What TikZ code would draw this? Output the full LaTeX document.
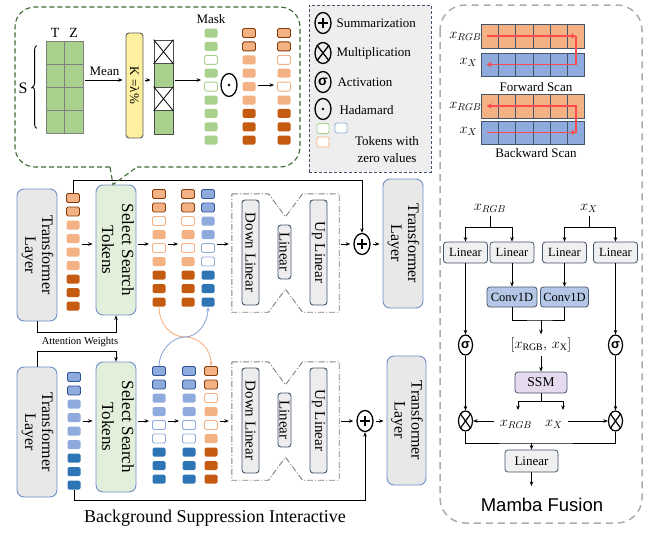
\documentclass[tikz,border=0pt]{standalone}
\usepackage{fontspec}
\setmainfont{Liberation Serif}
\setsansfont{Liberation Sans}
\usepackage{graphicx}
\usepackage{tikz}
\usetikzlibrary{
  arrows.meta,
  positioning,
  shapes.geometric,
  calc,
  decorations.pathreplacing,
}

\definecolor{orL}{HTML}{F4B183}
\definecolor{orD}{HTML}{C55A11}
\definecolor{orE}{HTML}{843C0C}
\definecolor{blL}{HTML}{8FAADC}
\definecolor{blD}{HTML}{2E75B6}
\definecolor{blE}{HTML}{2F5597}
\definecolor{grL}{HTML}{A9D18E}
\definecolor{grBox}{HTML}{E2EFDA}
\definecolor{slate}{HTML}{44546A}
\definecolor{layerbd}{HTML}{6F8FC7}
\definecolor{callgr}{HTML}{3E6B34}
\definecolor{scanred}{HTML}{FF4B4B}
\definecolor{convbl}{HTML}{B4C7E7}
\definecolor{ssmpu}{HTML}{E6DAEE}
\definecolor{kyel}{HTML}{FFF0A0}

\newcommand{\fs}[2]{\fontsize{#1}{#2}\selectfont}
\newcommand{\vlab}[1]{\rotatebox{-90}{\begin{tabular}{@{}c@{}}#1\end{tabular}}}

\begin{document}
\begin{tikzpicture}[
  x=1pt, y=-1pt,
  >={Stealth[length=4.5pt,width=3.6pt]},
  tok/.style={minimum width=13pt, minimum height=9pt, inner sep=0pt,
    rounded corners=1.5pt, line width=0.9pt},
  oB/.style={tok, fill=orL, draw=orE},
  oL/.style={tok, fill=orL},
  oZ/.style={tok, fill=white, draw=orL},
  oD/.style={tok, fill=orD},
  bB/.style={tok, fill=blL, draw=blE},
  bL/.style={tok, fill=blL},
  bZ/.style={tok, fill=white, draw=blL},
  bD/.style={tok, fill=blD},
  gF/.style={tok, fill=grL},
  gZ/.style={tok, fill=white, draw=grL},
  tfbox/.style={draw=layerbd, line width=0.9pt, rounded corners=7pt,
    fill=gray!18, inner sep=0pt, font=\fs{16}{17}},
  selbox/.style={tfbox, fill=grBox, font=\fs{17}{20}},
  lin/.style={draw=slate, line width=0.9pt, rounded corners=3pt,
    fill=gray!14, inner sep=0pt, font=\fs{15}{15}},
  mblk/.style={draw=slate, line width=0.8pt, rounded corners=3pt,
    fill=gray!12, inner sep=0pt, minimum height=21pt, font=\fs{12.5}{12.5}},
  op/.style={ellipse, draw, line width=1.3pt, minimum width=16pt,
    minimum height=21pt, inner sep=0pt},
  flow/.style={->, line width=0.9pt, shorten <=2pt, shorten >=3pt},
  wire/.style={line width=0.9pt},
  adbox/.style={draw=gray, line width=0.9pt,
    dash pattern=on 6pt off 2pt on 1pt off 2pt},
  scan/.style={draw=scanred, line width=1.8pt, -{Stealth[length=5pt,width=5.5pt]}},
  cell/.style={draw=slate, line width=0.8pt, minimum width=17.3pt,
    inner sep=0pt},
  note/.style={font=\fs{13}{13}},
  mlab/.style={font=\fs{14}{14}},
]
\useasboundingbox (0,0) rectangle (649,536);

% ── Top row: adapter path ───────────────────────────────────────────
\node[tfbox, minimum width=40pt, minimum height=132pt] (tlA) at (37,255)
  {\vlab{Transformer\\Layer}};
\foreach \s [count=\i] in {oB,oB,oL,oL,oL,oL,oD,oD,oD}
  \node[\s] (a1-\i) at (73,{198+13.5*(\i-1)}) {};
\node[selbox, minimum width=40pt, minimum height=130pt] (sstA) at (116,250)
  {\vlab{Select Search\\Tokens}};
\foreach \s [count=\i] in {oB,oB,oZ,oL,oZ,oL,oD,oD,oD} {
  \node[\s] (a2-\i) at (159,{194+13.5*(\i-1)}) {};
  \node[\s] (a3-\i) at (188,{194+13.5*(\i-1)}) {};
}
\foreach \s [count=\i] in {bB,bB,bL,bL,bZ,bZ,bD,bD,bD}
  \node[\s] (a4-\i) at (208,{194+13.5*(\i-1)}) {};

\node[minimum width=107pt, minimum height=118pt, inner sep=0pt] (adA) at (285.5,253) {};
\node[lin, minimum width=17pt, minimum height=105pt] (dlA) at (250.5,252.5)
  {\rotatebox{-90}{Down Linear}};
\node[lin, minimum width=13pt, minimum height=54pt] (liA) at (284.5,252)
  {\rotatebox{-90}{Linear}};
\node[lin, minimum width=17pt, minimum height=105pt] (ulA) at (318.5,252.5)
  {\rotatebox{-90}{Up Linear}};

\node[op] (plusA) at (362,244) {};
\node[tfbox, minimum width=40pt, minimum height=129pt] (tlA2) at (403,243.5)
  {\vlab{Transformer\\Layer}};

% ── Bottom row: adapter path ────────────────────────────────────────
\node[tfbox, minimum width=40pt, minimum height=130pt] (tlB) at (37,432)
  {\vlab{Transformer\\Layer}};
\foreach \s [count=\i] in {bB,bB,bL,bL,bL,bL,bD,bD,bD}
  \node[\s] (b1-\i) at (74,{377+13.5*(\i-1)}) {};
\node[selbox, minimum width=40pt, minimum height=130pt] (sstB) at (116,427)
  {\vlab{Select Search\\Tokens}};
\foreach \s [count=\i] in {bB,bB,bL,bL,bZ,bZ,bD,bD,bD} {
  \node[\s] (b2-\i) at (159,{371+13.5*(\i-1)}) {};
  \node[\s] (b3-\i) at (189,{371+13.5*(\i-1)}) {};
}
\foreach \s [count=\i] in {oB,oB,oZ,oL,oZ,oL,oD,oD,oD}
  \node[\s] (b4-\i) at (211,{371+13.5*(\i-1)}) {};

\node[minimum width=107pt, minimum height=118pt, inner sep=0pt] (adB) at (285.5,421) {};
\node[lin, minimum width=17pt, minimum height=105pt] (dlB) at (250.5,420.5)
  {\rotatebox{-90}{Down Linear}};
\node[lin, minimum width=13pt, minimum height=54pt] (liB) at (284.5,420)
  {\rotatebox{-90}{Linear}};
\node[lin, minimum width=17pt, minimum height=105pt] (ulB) at (318.5,420.5)
  {\rotatebox{-90}{Up Linear}};

\node[op] (plusB) at (365,421) {};
\node[tfbox, minimum width=39pt, minimum height=129pt] (tlB2) at (406.5,420.5)
  {\vlab{Transformer\\Layer}};

\foreach \n in {adA,adB}
  \draw[adbox] (\n.north west) -- ([xshift=-17pt]\n.north) -- ([yshift=-23pt]\n.north)
    -- ([xshift=17pt]\n.north) -- (\n.north east) -- (\n.south east)
    -- ([xshift=17pt]\n.south) -- ([yshift=23pt]\n.south)
    -- ([xshift=-17pt]\n.south) -- (\n.south west) -- cycle;

% ── Connections: main rows ──────────────────────────────────────────
\coordinate (rowA) at (0,244);
\coordinate (rowB) at (0,421);
\draw[flow] (a1-4.east |- rowA) -- (sstA.west |- rowA);
\draw[flow] (sstA.east |- rowA) -- (a2-4.west |- rowA);
\draw[flow] (a2-4.east |- rowA) -- (a3-4.west |- rowA);
\draw[flow] (a4-4.east |- rowA) -- (adA.west |- rowA);
\draw[flow] (adA.east |- rowA) -- (plusA.west);
\draw[flow] (plusA.east) -- (tlA2.west |- plusA);

\draw[flow] (b1-4.east |- rowB) -- (sstB.west |- rowB);
\draw[flow] (sstB.east |- rowB) -- (b2-4.west |- rowB);
\draw[flow] (b2-4.east |- rowB) -- (b3-4.west |- rowB);
\draw[flow] (b4-4.east |- rowB) -- (adB.west |- rowB);
\draw[flow] (adB.east |- rowB) -- (plusB.west);
\draw[flow] (plusB.east) -- (tlB2.west |- plusB);

\coordinate (skipA) at (73,180);
\draw[->, wire] (a1-1.north) -- (skipA) -| (plusA.north);
\coordinate (skipB) at (74,500);
\draw[->, wire] (b1-9.south) -- (skipB) -| (plusB.south);

\coordinate (attA) at (116,332);
\draw[->, wire] (tlA.south) |- (attA) -- (sstA.south);
\coordinate (attB) at (116,351);
\draw[->, wire] (tlB.north) |- (attB) -- (sstB.north);
\node[font=\fs{10.5}{10.5}] (attlbl) at (80,342) {Attention Weights};

% token swap between the two rows
\coordinate (xcross) at (185,337);
\draw[->, orL, line width=0.9pt] (a2-9.south) .. controls (159,324) and (171,337) .. (xcross)
  .. controls (199,337) and (211,349) .. (b4-1.north);
\draw[->, blL, line width=0.9pt] (b2-1.north) .. controls (159,351) and (172,337) .. (xcross)
  .. controls (198,337) and (208,322) .. (a4-9.south);

\node[font=\fs{18}{18}] (title) at (215,518) {Background Suppression Interactive};

% ── Zoom-in of token selection ──────────────────────────────────────
\draw[callgr, line width=1.1pt, dash pattern=on 5pt off 3pt, rounded corners=20pt]
  (110,167) -- (15,167) -- (15,7) -- (300,7) -- (300,167) -- (137,167);
\draw[callgr, line width=1.1pt, dash pattern=on 5pt off 3pt]
  (110,167) -- ([xshift=-3pt]sstA.north) -- (137,167);

\foreach \r in {1,...,4}
  \foreach \c in {1,2}
    \node[draw=gray, fill=grL, line width=0.8pt, minimum width=18.5pt,
          minimum height=23pt, inner sep=0pt]
      (g-\r-\c) at ({46+18.5*(\c-0.5)},{41+23*(\r-0.5)}) {};
\node[font=\fs{14}{14}, above=0pt of g-1-1] (lblT) {T};
\node[font=\fs{14}{14}, above=0pt of g-1-2] (lblZ) {Z};
\node[font=\fs{16}{16}] (lblS) at (23,88) {S};
\draw[decorate, decoration={brace, amplitude=4pt}, line width=0.9pt]
  ([xshift=-9pt,yshift=5pt]g-4-1.south west) -- ([xshift=-9pt,yshift=-5pt]g-1-1.north west);
\coordinate (brtip) at (33,87.5);
\draw[wire] (lblS.east) -- (brtip);

\node[draw=gray!70!black, fill=kyel, rounded corners=3pt, line width=0.9pt,
      minimum width=17pt, minimum height=105pt, inner sep=0pt] (kbox) at (134.5,85.5)
  {\rotatebox{-90}{\fs{13}{13}K =λ\%}};
\foreach \f [count=\i] in {white,grL,white,grL}
  \node[draw=gray!60!black, fill=\f, line width=0.8pt, minimum width=19pt,
        minimum height=23.5pt, inner sep=0pt] (sel-\i) at (163.5,{40+23.5*(\i-0.5)}) {};
\foreach \i in {1,3}
  \draw[line width=0.8pt] (sel-\i.north west) -- (sel-\i.south east)
    (sel-\i.north east) -- (sel-\i.south west);

\foreach \s [count=\i] in {gF,gF,gZ,gF,gZ,gF,gF,gF,gF}
  \node[\s] (m-\i) at (211,{33+13.4*(\i-1)}) {};
\node[note, above=1pt of m-1] (lblmask) {Mask};
\node[op, minimum height=23pt] (had) at (229,85) {};
\fill (had.center) circle (1.4pt);
\foreach \s [count=\i] in {oB,oB,oL,oL,oL,oL,oD,oD,oD}
  \node[\s] (w-\i) at (249,{33+13.4*(\i-1)}) {};
\foreach \s [count=\i] in {oB,oB,oZ,oL,oZ,oL,oD,oD,oD}
  \node[\s] (r-\i) at (284,{33+13.4*(\i-1)}) {};

\coordinate (rowT) at (0,80);
\draw[flow] (g-2-2.east |- rowT) -- (kbox.west |- rowT)
  node[midway, above=1pt, note] {Mean};
\draw[flow] (kbox.east |- rowT) -- (sel-2.west |- rowT);
\draw[flow] (sel-2.east |- rowT) -- (m-4.west |- rowT);
\draw[flow] (w-5.east |- had) -- (r-5.west |- had);

% ── Legend ──────────────────────────────────────────────────────────
\node[draw=slate, fill=gray!13, line width=0.9pt, dash pattern=on 3pt off 2pt,
      minimum width=122pt, minimum height=167pt, inner sep=0pt] (legend) at (370,88.5) {};
\node[op] (lg-sum) at (323,23) {};
\node[note, anchor=west] (lg-sum-t) at (333,23) {Summarization};
\node[op] (lg-mul) at (323,53) {};
\draw[line width=1.3pt] (lg-mul.north east) -- (lg-mul.south west)
  (lg-mul.north west) -- (lg-mul.south east);
\node[note, anchor=west] (lg-mul-t) at (333,53) {Multiplication};
\node[op] (lg-act) at (323,82) {\fs{14}{14}\sffamily\bfseries σ};
\node[note, anchor=west] (lg-act-t) at (334,82) {Activation};
\node[op] (lg-had) at (323,109) {};
\fill (lg-had.center) circle (1.4pt);
\node[note, anchor=west] (lg-had-t) at (336,110) {Hadamard};
\node[gZ, minimum width=12pt, minimum height=10pt] (lg-g) at (323,128.5) {};
\node[bZ, minimum width=12pt, minimum height=10pt] (lg-b) at (341,128) {};
\node[oZ, minimum width=12pt, minimum height=10pt] (lg-o) at (323,142) {};
\node[align=center, font=\fs{13}{17}] (lg-tok-t) at (387,150) {Tokens with\\zero values};

% bold plus signs inside the summation circles
\foreach \n in {plusA,plusB,lg-sum}
  \draw[line width=2pt] ([yshift=-5pt]\n.center) -- ([yshift=5pt]\n.center)
    ([xshift=-5pt]\n.center) -- ([xshift=5pt]\n.center);

% ── Mamba Fusion ────────────────────────────────────────────────────
\draw[gray!65, line width=1.5pt, dash pattern=on 7pt off 5pt, rounded corners=25pt]
  (440,5) rectangle (642,523);

\foreach \i in {1,...,6} {
  \node[cell, fill=orL, minimum height=24pt] (fo-\i) at ({481+17.3*(\i-0.5)},36) {};
  \node[cell, fill=blL, minimum height=23pt] (fb-\i) at ({481+17.3*(\i-0.5)},64.5) {};
  \node[cell, fill=orL, minimum height=24pt] (ko-\i) at ({481+17.3*(\i-0.5)},106) {};
  \node[cell, fill=blL, minimum height=23pt] (kb-\i) at ({481+17.3*(\i-0.5)},132.5) {};
}
\node[mlab] (sfo) at (465.5,36) {$x_{RGB}$};
\node[mlab] (sfb) at (468.5,62) {$x_{X}$};
\node[mlab] (sko) at (465.5,106) {$x_{RGB}$};
\node[mlab] (skb) at (468.5,131) {$x_{X}$};
\node[note] (fwd) at (536,87) {Forward Scan};
\node[note] (bwd) at (536,153) {Backward Scan};
\draw[scan] ([xshift=-3pt]fo-1.center) -- (fo-6.center);
\draw[scan] (fo-6.center) -- (fb-6.center) -- ([xshift=-3pt]fb-1.center);
\draw[scan] ([xshift=-3pt]kb-1.center) -- (kb-6.center);
\draw[scan] (kb-6.center) -- (ko-6.center) -- ([xshift=-3pt]ko-1.center);

\node[mlab] (xr) at (490,208) {$x_{RGB}$};
\node[mlab] (xx) at (589,208) {$x_{X}$};
\node[mblk, minimum width=44pt] (lin1) at (465.5,252.5) {Linear};
\node[mblk, minimum width=44pt] (lin2) at (512,252.5) {Linear};
\node[mblk, minimum width=44pt] (lin3) at (564.5,252.5) {Linear};
\node[mblk, minimum width=44pt] (lin4) at (615.5,252.5) {Linear};
\node[mblk, fill=convbl, minimum width=50pt, minimum height=20pt] (conv1) at (512,297) {Conv1D};
\node[mblk, fill=convbl, minimum width=48pt, minimum height=20pt] (conv2) at (564.5,297) {Conv1D};
\node[mlab] (cat) at (541,345) {$[x_{\mathrm{RGB}},\,x_{\mathrm{X}}]$};
\node[op, line width=1.2pt, minimum width=14pt, minimum height=20pt] (sig1) at (465.5,345)
  {\fs{13}{13}\sffamily\bfseries σ};
\node[op, line width=1.2pt, minimum width=14pt, minimum height=20pt] (sig2) at (615.5,345)
  {\fs{13}{13}\sffamily\bfseries σ};
\node[mblk, fill=ssmpu, minimum width=52pt, font=\fs{13.5}{13.5}] (ssm) at (541,382.5) {SSM};
\node[op, line width=1.2pt, minimum width=14pt, minimum height=20pt] (mul1) at (465.5,421) {};
\node[op, line width=1.2pt, minimum width=14pt, minimum height=20pt] (mul2) at (615.5,421) {};
\foreach \n in {mul1,mul2}
  \draw[line width=1.2pt] (\n.north east) -- (\n.south west) (\n.north west) -- (\n.south east);
\node[mlab] (xr2) at (516,424) {$x_{RGB}$};
\node[mlab] (xx2) at (554,424) {$x_{X}$};
\node[mblk, minimum width=53pt, minimum height=22pt, font=\fs{13}{13}] (linout) at (531.5,461) {Linear};
\node[font=\sffamily\fs{18.5}{18.5}] (mtitle) at (542,505) {Mamba Fusion};

\draw[->, wire] (xr.south) |- ([yshift=14pt]lin1.north) -- (lin1.north);
\draw[->, wire] (xr.south) |- ([yshift=14pt]lin2.north) -- (lin2.north);
\draw[->, wire] (xx.south) |- ([yshift=14pt]lin3.north) -- (lin3.north);
\draw[->, wire] (xx.south) |- ([yshift=14pt]lin4.north) -- (lin4.north);
\draw[->, wire] (lin2) -- (conv1);
\draw[->, wire] (lin3) -- (conv2);
\coordinate (catin) at (541,320);
\draw[wire] (conv1.south) |- (catin) -| (conv2.south);
\draw[->, wire] (catin) -- (cat);
\draw[->, wire] (cat) -- (ssm);
\coordinate (ssmfork) at (541,401);
\coordinate (toxr) at (518,410);
\coordinate (toxx) at (563,410);
\draw[wire] (ssm.south) -- (ssmfork);
\draw[->, wire] (ssmfork) -| (toxr);
\draw[->, wire] (ssmfork) -| (toxx);
\draw[->, wire] (lin1) -- (sig1);
\draw[->, wire] (sig1) -- (mul1);
\draw[->, wire] (lin4) -- (sig2);
\draw[->, wire] (sig2) -- (mul2);
\draw[->, wire, shorten <=2pt] (xr2.west |- mul1) -- (mul1.east);
\draw[->, wire, shorten <=2pt] (xx2.east |- mul2) -- (mul2.west);
\coordinate (mulj) at (531.5,443);
\draw[wire] (mul1.south) |- (mulj) -| (mul2.south);
\draw[->, wire] (mulj) -- (linout);
\coordinate (mout) at (531.5,486);
\draw[->, wire] (linout) -- (mout);

\end{tikzpicture}
\end{document}
